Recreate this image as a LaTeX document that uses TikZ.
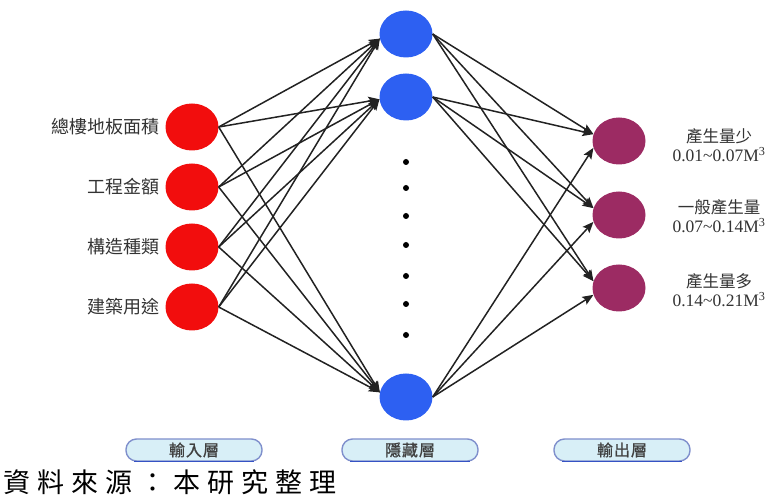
\documentclass[tikz,border=0pt]{standalone}
\usepackage{fontspec}
\setmainfont{Liberation Serif}
\newfontfamily\cjk{Noto Sans CJK TC}
\newfontfamily\cjkheavy[FakeBold=1.2]{Noto Sans CJK TC}
\usetikzlibrary{shapes.geometric,arrows.meta}

\definecolor{inred}{HTML}{F20D0D}
\definecolor{hidblue}{HTML}{2D60F2}
\definecolor{outplum}{HTML}{9C2B63}
\definecolor{wire}{HTML}{222222}
\definecolor{tagfill}{HTML}{D8EFF7}
\definecolor{tagedge}{HTML}{7F8FCC}
\definecolor{tagline}{HTML}{3552C4}

\begin{document}
\begin{tikzpicture}[x=1pt,y=-1pt,
  neuron/.style={ellipse,minimum width=53pt,minimum height=47pt,inner sep=0pt},
  innode/.style={neuron,fill=inred},
  hidnode/.style={neuron,fill=hidblue},
  outnode/.style={neuron,fill=outplum},
  wirearrow/.style={draw=wire,line width=1.5pt,-{Stealth[length=11pt,width=9pt,inset=2pt]}},
  inlabel/.style={anchor=east,inner sep=0pt,text=black!80,font=\cjk\fontsize{18}{20}\selectfont},
  outlabel/.style={align=center,inner sep=0pt,text=black!80,font=\fontsize{17.5}{19.5}\selectfont},
  dotmark/.style={circle,fill=black,inner sep=0pt,minimum size=6pt},
  tag/.style={rounded corners=10.5pt,draw=tagedge,line width=1.4pt,fill=tagfill,
    minimum width=136pt,minimum height=22pt,inner sep=0pt,text=black!75,
    font=\cjkheavy\fontsize{16}{16}\selectfont},
  tagbase/.style={draw=tagline,line width=1.3pt}
]
\useasboundingbox (0,0) rectangle (769,502);

% input layer
\node[innode] (i1) at (192,127) {};
\node[innode] (i2) at (192,187) {};
\node[innode] (i3) at (192,247) {};
\node[innode] (i4) at (192,307) {};
\node[inlabel] (li1) at (160,127) {總樓地板面積};
\node[inlabel] (li2) at (160,187) {工程金額};
\node[inlabel] (li3) at (160,247) {構造種類};
\node[inlabel] (li4) at (160,307) {建築用途};

% hidden layer
\node[hidnode] (h1) at (406,34) {};
\node[hidnode] (h2) at (406,97) {};
\node[hidnode] (h3) at (406,397) {};
\foreach \y [count=\k] in {162,188,216,245,276,304,335}
  \node[dotmark] (d\k) at (406,\y) {};

% output layer
\node[outnode] (o1) at (619,141) {};
\node[outnode] (o2) at (619,215) {};
\node[outnode] (o3) at (619,288) {};
\node[outlabel] (lo1) at (719,145) {{\cjk\fontsize{16.5}{16.5}\selectfont 產生量少}\\0.01\textasciitilde0.07M\textsuperscript{3}};
\node[outlabel] (lo2) at (719,216) {{\cjk\fontsize{16.5}{16.5}\selectfont 一般產生量}\\0.07\textasciitilde0.14M\textsuperscript{3}};
\node[outlabel] (lo3) at (719,290) {{\cjk\fontsize{16.5}{16.5}\selectfont 產生量多}\\0.14\textasciitilde0.21M\textsuperscript{3}};

% input -> hidden
\foreach \i in {1,...,4} {
  \draw[wirearrow] (i\i.east) -- (h1.190);
  \draw[wirearrow] (i\i.east) -- (h2.185);
  \draw[wirearrow] (i\i.east) -- (h3.170);
}
% hidden -> output
\foreach \o in {1,2,3} {
  \draw[wirearrow] (h1.east) -- (o\o.165);
  \draw[wirearrow] (h2.east) -- (o\o.165);
  \draw[wirearrow] (h3.east) -- (o\o.195);
}

% layer tags
\node[tag] (t1) at (194,450) {輸\kern1pt入\kern1pt層};
\node[tag] (t2) at (410,450) {隱\kern1pt藏\kern1pt層};
\node[tag] (t3) at (622,450) {輸\kern1pt出\kern1pt層};
\foreach \t in {t1,t2,t3}
  \draw[tagbase] ([xshift=9pt]\t.south west) -- ([xshift=-9pt]\t.south east);

% source note
\node[anchor=west,inner sep=0pt,font=\cjk\fontsize{27}{27}\selectfont] (src) at (3,482)
  {資\kern7pt料\kern7pt來\kern7pt源\kern7pt：\kern7pt本\kern7pt研\kern7pt究\kern7pt整\kern7pt理};
\end{tikzpicture}
\end{document}
